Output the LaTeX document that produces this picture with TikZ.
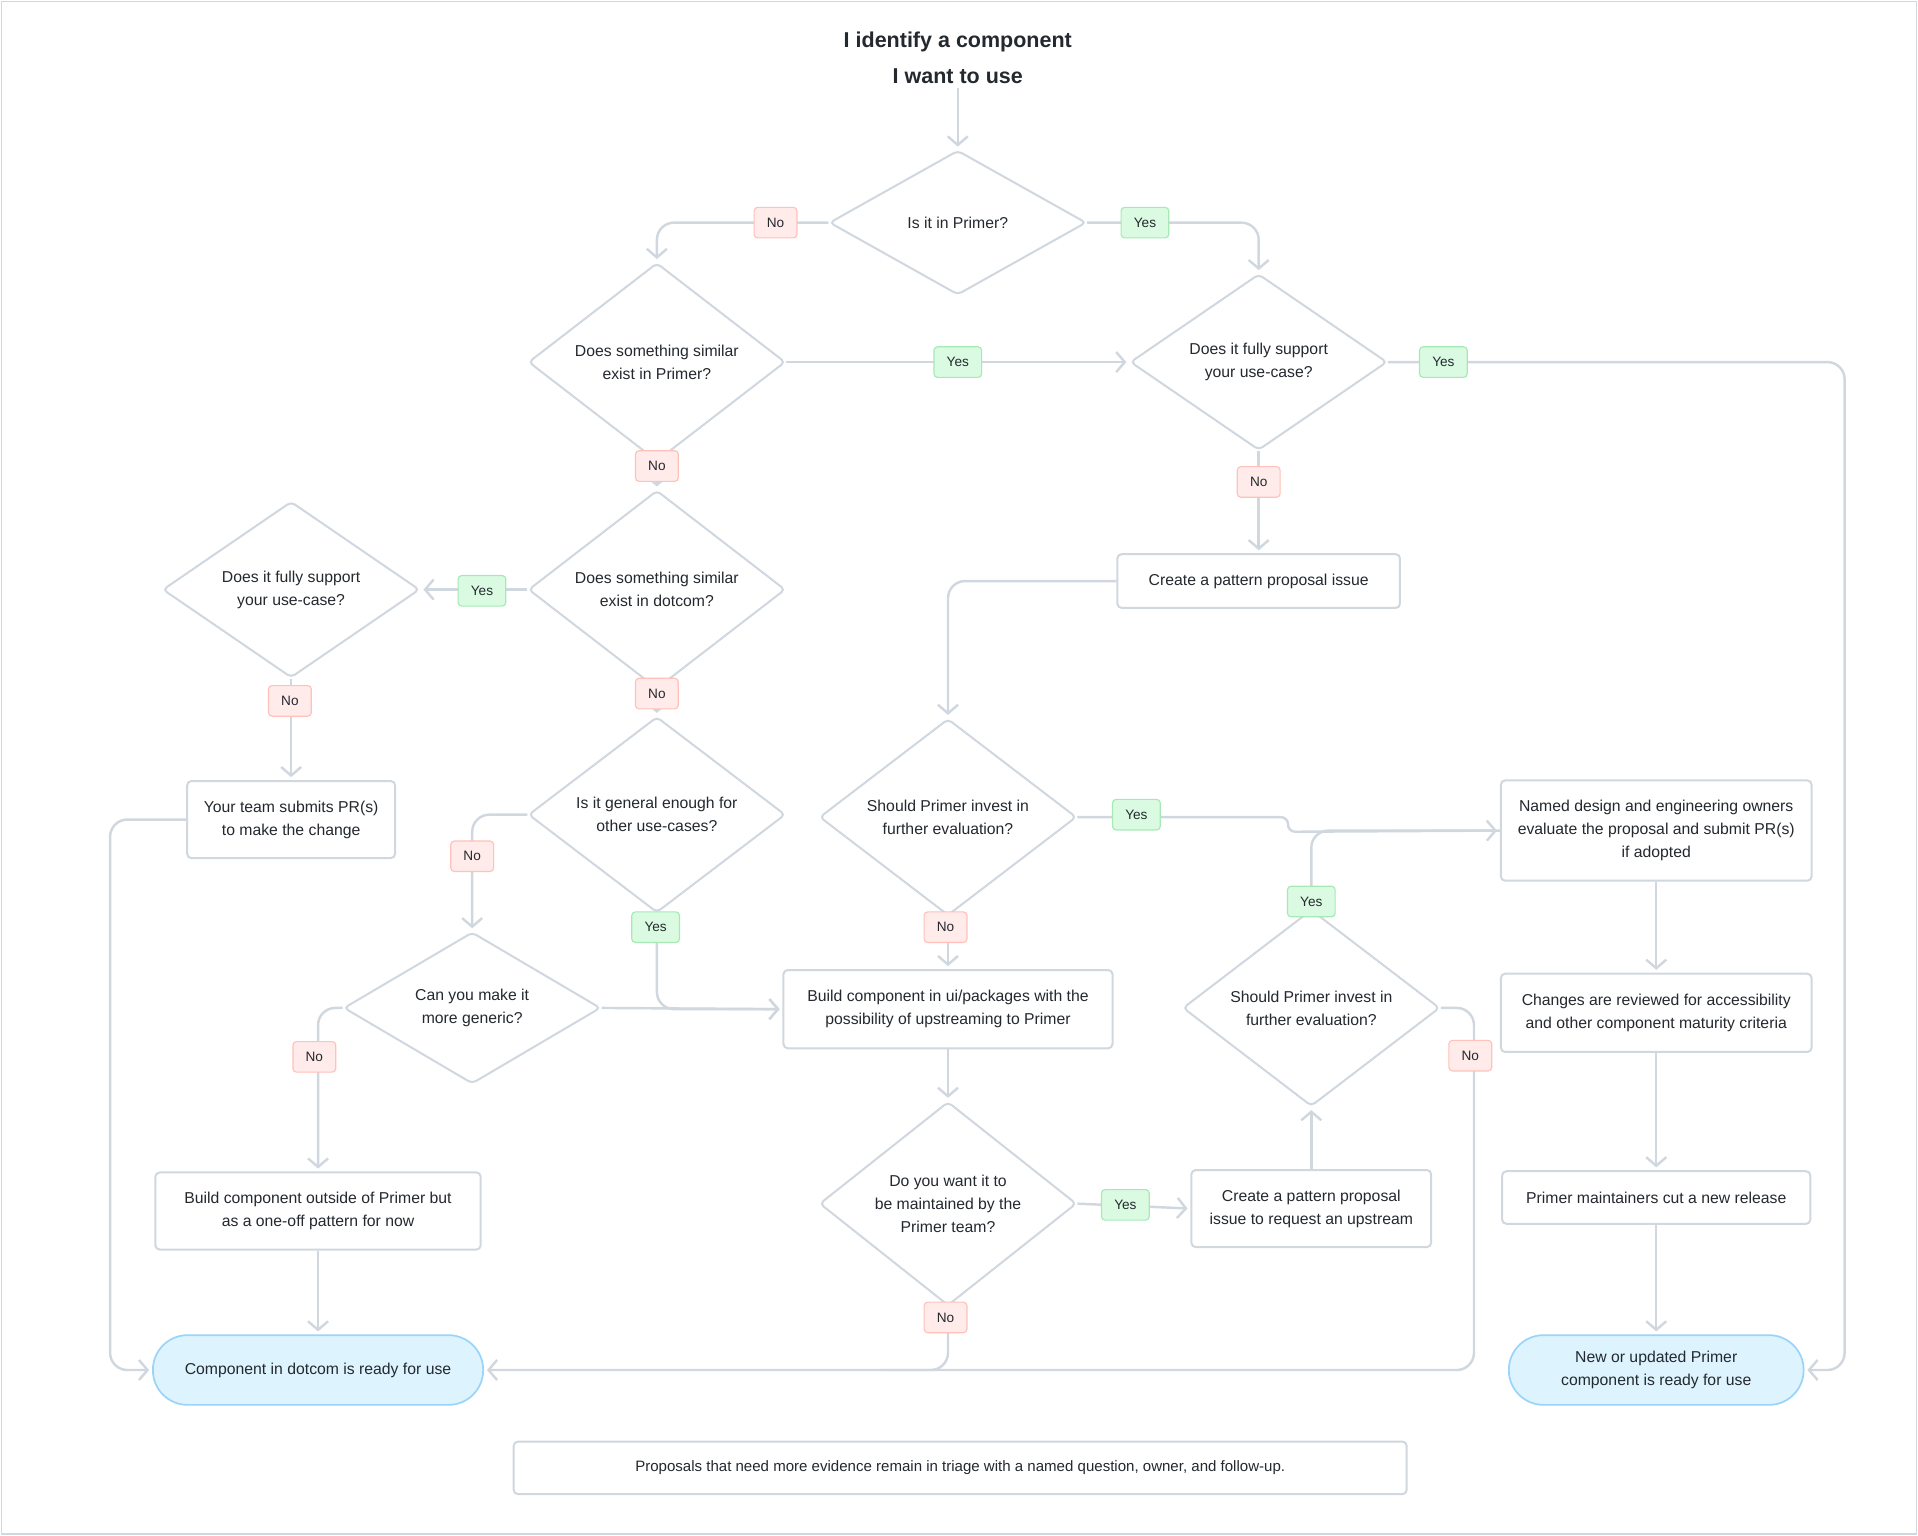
\documentclass[tikz,border=0pt]{standalone}
\usepackage{fontspec}
\setmainfont{Liberation Sans}
\usetikzlibrary{shapes.geometric,arrows.meta}
\definecolor{ln}{HTML}{D0D7DE}
\definecolor{tx}{HTML}{24292F}
\definecolor{nof}{HTML}{FFEBE9}
\definecolor{nob}{HTML}{FFC1BA}
\definecolor{yesf}{HTML}{DAFBE1}
\definecolor{yesb}{HTML}{A6E9B5}
\definecolor{tf}{HTML}{DDF4FF}
\definecolor{tb}{HTML}{9AD4F9}
\begin{document}
\begin{tikzpicture}[x=0.03cm,y=-0.03cm,
  every node/.style={text=tx,font=\fontsize{11}{16}\selectfont,align=center},
  dia/.style={diamond,draw=ln,line width=1.4pt,minimum width=6.3cm,minimum height=3.54cm,inner sep=0pt,rounded corners=3pt,fill=white},
  box/.style={rectangle,draw=ln,line width=1.4pt,rounded corners=3pt,fill=white,inner sep=2pt},
  term/.style={rectangle,draw=tb,fill=tf,line width=1.2pt,rounded corners=0.85cm,minimum height=1.71cm},
  no/.style={rectangle,draw=nob,fill=nof,line width=0.8pt,rounded corners=2.5pt,minimum width=1.05cm,minimum height=0.75cm,font=\fontsize{9.5}{11}\selectfont,inner sep=1pt},
  yes/.style={no,draw=yesb,fill=yesf,minimum width=1.17cm},
  ed/.style={draw=ln,line width=1.7pt,rounded corners=12pt,-{Straight Barb[length=6pt,width=14pt,line width=1.7pt]},shorten >=2pt},
  el/.style={draw=ln,line width=1.7pt,rounded corners=12pt}]
\useasboundingbox (0,0) rectangle (1568,1255);
\draw[ln,line width=0.8pt] (1,1) rectangle (1567,1254);

\node[font=\bfseries\fontsize{15}{25}\selectfont] (title) at (783,47) {I identify a component\\I want to use};
\node[dia] (D1) at (783,182) {Is it in Primer?};
\node[dia] (D2) at (537,296) {Does something similar\\exist in Primer?};
\node[dia] (D3) at (1029,296) {Does it fully support\\your use-case?};
\node[dia] (D4) at (537,482) {Does something similar\\exist in dotcom?};
\node[dia] (D5) at (238,482) {Does it fully support\\your use-case?};
\node[box,minimum width=6.93cm,minimum height=1.32cm] (B1) at (1029,475) {Create a pattern proposal issue};
\node[box,minimum width=5.1cm,minimum height=1.89cm] (B2) at (238,670) {Your team submits PR(s)\\to make the change};
\node[dia] (D6) at (537,666) {Is it general enough for\\other use-cases?};
\node[dia] (D7) at (775,668) {Should Primer invest in\\further evaluation?};
\node[box,minimum width=7.62cm,minimum height=2.46cm] (B3) at (1354,679) {Named design and engineering owners\\evaluate the proposal and submit PR(s)\\if adopted};
\node[dia] (D8) at (386,824) {Can you make it\\more generic?};
\node[box,minimum width=8.07cm,minimum height=1.92cm] (B4) at (775,825) {Build component in ui/packages with the\\possibility of upstreaming to Primer};
\node[dia] (D9) at (1072,824) {Should Primer invest in\\further evaluation?};
\node[box,minimum width=7.62cm,minimum height=1.92cm] (B5) at (1354,828) {Changes are reviewed for accessibility\\and other component maturity criteria};
\node[box,minimum width=7.98cm,minimum height=1.89cm] (B6) at (260,990) {Build component outside of Primer but\\as a one-off pattern for now};
\node[dia] (D10) at (775,984) {Do you want it to\\be maintained by the\\Primer team?};
\node[box,minimum width=5.88cm,minimum height=1.89cm] (B7) at (1072,988) {Create a pattern proposal\\issue to request an upstream};
\node[box,minimum width=7.56cm,minimum height=1.29cm] (B8) at (1354,979) {Primer maintainers cut a new release};
\node[term,minimum width=8.1cm] (T1) at (260,1120) {Component in dotcom is ready for use};
\node[term,minimum width=7.23cm] (T2) at (1354,1120) {New or updated Primer\\component is ready for use};
\node[box,minimum width=21.9cm,minimum height=1.29cm,font=\fontsize{10.5}{13}\selectfont] (N) at (785,1200) {Proposals that need more evidence remain in triage with a named question, owner, and follow-up.};

% edges
\draw[ed] (title) -- (D1.north);
\draw[ed] (D1.west) -| (D2.north);
\draw[ed] (D1.east) -| (D3.north);
\draw[ed] (D2.east) -- (D3.west);
\draw[ed] (D3.east) -- (1508,296) -- (1508,1120) -- (T2.east);
\draw[ed] (D2.south) -- (D4.north);
\draw[ed] (D3.south) -- (B1.north);
\draw[ed] (B1.west) -| (D7.north);
\draw[ed] (D4.west) -- (D5.east);
\draw[ed] (D4.south) -- (D6.north);
\draw[ed] (D5.south) -- (B2.north);
\draw[ed] (B2.west) -- (90,670) -- (90,1120) -- (T1.west);
\draw[ed] (D6.west) -| (D8.north);
\draw[ed] (D6.south) |- (B4.west);
\draw[ed] (D8.east) -- (B4.west);
\draw[ed] (D8.west) -- (260,824) -- (B6.north);
\draw[ed] (B6.south) -- (T1.north);
\draw[ed,rounded corners=5pt] (D7.east) -- (1053,668) -- (1053,680) -- (B3.west);
\draw[el] (D9.north) |- (B3.west);
\draw[ed] (D7.south) -- (B4.north);
\draw[ed] (B4.south) -- (D10.north);
\draw[ed] (D10.east) -- (B7.west);
\draw[ed] (B7.north) -- (D9.south);
\draw[ed] (D9.east) -- (1205,824) -- (1205,1120) -- (T1.east);
\draw[el] (D10.south) -- (775,1120) -- (720,1120);
\draw[ed] (B3.south) -- (B5.north);
\draw[ed] (B5.south) -- (B8.north);
\draw[ed] (B8.south) -- (T2.north);

% labels
\node[no] (l1) at (634,182) {No};
\node[yes] (l2) at (936,182) {Yes};
\node[yes] (l3) at (783,296) {Yes};
\node[yes] (l4) at (1180,296) {Yes};
\node[no] (l5) at (537,381) {No};
\node[no] (l6) at (1029,394) {No};
\node[yes] (l7) at (394,483) {Yes};
\node[no] (l8) at (537,567) {No};
\node[no] (l9) at (237,573) {No};
\node[no] (l10) at (386,700) {No};
\node[yes] (l11) at (536,758) {Yes};
\node[yes] (l12) at (929,666) {Yes};
\node[yes] (l13) at (1072,737) {Yes};
\node[no] (l14) at (773,758) {No};
\node[no] (l15) at (257,864) {No};
\node[no] (l16) at (1202,863) {No};
\node[yes] (l17) at (920,985) {Yes};
\node[no] (l18) at (773,1077) {No};
\end{tikzpicture}
\end{document}
